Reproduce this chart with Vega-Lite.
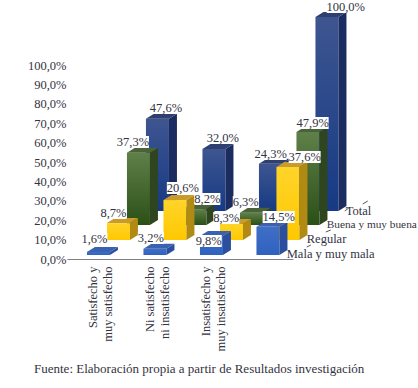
{
"$schema":"https://vega.github.io/schema/vega-lite/v6.json",
"width":226,"height":194,
"autosize":"none",
"padding":{"left":67,"top":65,"right":125,"bottom":129},
"background":"white",
"title":{"text":"Fuente: Elaboración propia a partir de Resultados investigación","orient":"bottom","anchor":"start","frame":"group","dx":-33,"offset":12,"font":"Liberation Serif","fontSize":13,"fontWeight":"normal","color":"#33333f"},
"config":{"view":{"stroke":null}},
"params":[
{"name":"etq","value":{"1.6":[-0.8,-16.9],"8.7":[18.2,-29.1],"37.3":[37.7,-44.6],"47.6":[70.7,-58.7],"3.2":[-0.9,-14.8],"20.6":[31.1,-31],"8.2":[55.6,-44.1],"32":[71.1,-58.9],"9.8":[0.5,1],"8.3":[18,-24.9],"6.3":[37.5,-44.8],"24.3":[62.5,-57.9],"14.5":[13.9,-13.9],"37.6":[39.9,-29],"47.9":[47.9,-43.1],"100":[80.9,-58]}},
{"name":"serie","value":{"Mala y muy mala":[22,-5],"Regular":[42,-20],"Buena y muy buena":[62,-34],"Total":[81,-48]}}
],
"data":{"values":[
{"Satisfaccion":"Satisfecho y\nmuy satisfecho","Calidad":"Mala y muy mala","Valor":1.6},
{"Satisfaccion":"Satisfecho y\nmuy satisfecho","Calidad":"Regular","Valor":8.7},
{"Satisfaccion":"Satisfecho y\nmuy satisfecho","Calidad":"Buena y muy buena","Valor":37.3},
{"Satisfaccion":"Satisfecho y\nmuy satisfecho","Calidad":"Total","Valor":47.6},
{"Satisfaccion":"Ni satisfecho\nni insatisfecho","Calidad":"Mala y muy mala","Valor":3.2},
{"Satisfaccion":"Ni satisfecho\nni insatisfecho","Calidad":"Regular","Valor":20.6},
{"Satisfaccion":"Ni satisfecho\nni insatisfecho","Calidad":"Buena y muy buena","Valor":8.2},
{"Satisfaccion":"Ni satisfecho\nni insatisfecho","Calidad":"Total","Valor":32.0},
{"Satisfaccion":"Insatisfecho y\nmuy insatisfecho","Calidad":"Mala y muy mala","Valor":9.8},
{"Satisfaccion":"Insatisfecho y\nmuy insatisfecho","Calidad":"Regular","Valor":8.3},
{"Satisfaccion":"Insatisfecho y\nmuy insatisfecho","Calidad":"Buena y muy buena","Valor":6.3},
{"Satisfaccion":"Insatisfecho y\nmuy insatisfecho","Calidad":"Total","Valor":24.3},
{"Satisfaccion":"Total","Calidad":"Mala y muy mala","Valor":14.5},
{"Satisfaccion":"Total","Calidad":"Regular","Valor":37.6},
{"Satisfaccion":"Total","Calidad":"Buena y muy buena","Valor":47.9},
{"Satisfaccion":"Total","Calidad":"Total","Valor":100}
]},
"encoding":{
"x":{"field":"Satisfaccion","type":"nominal","sort":null,
 "scale":{"domain":["Satisfecho y\nmuy satisfecho","Ni satisfecho\nni insatisfecho","Insatisfecho y\nmuy insatisfecho","Total"],"paddingInner":0,"paddingOuter":0},
 "axis":{"title":null,"ticks":false,"domainColor":"#808080","domainWidth":1,"labelAngle":-90,"labelAlign":"right","labelBaseline":"middle","labelPadding":7,"labelOffset":-2,"labelFont":"Liberation Serif","labelFontSize":12.5,"labelColor":"#33333f","labelLineHeight":15,"labelLimit":0,"labelExpr":"datum.label=='Total'?'':split(datum.label,'\\n')"}},
"y":{"field":"Valor","type":"quantitative","stack":null,
 "scale":{"domain":[0,100],"nice":false},
 "axis":{"title":null,"ticks":false,"domain":false,"grid":false,"values":[0,10,20,30,40,50,60,70,80,90,100],"labelPadding":1,"labelFont":"Liberation Serif","labelFontSize":12.5,"labelColor":"#33333f","labelExpr":"replace(format(datum.value,'.1f'),'.',',')+'%'"}}
},
"layer":[
{"transform":[{"filter":"datum.Calidad=='Total'"}],"mark":{"type":"bar","size":23,"xOffset":62.2,"yOffset":-48,"y2Offset":-48,"fill":{"gradient":"linear","x1":0,"y1":0,"x2":0,"y2":1,"stops":[{"offset":0,"color":"#3e5590"},{"offset":1,"color":"#163a84"}]}},"encoding":{"y2":{"datum":0}}},
{"transform":[{"filter":"datum.Calidad=='Total'"}],"mark":{"type":"point","filled":true,"opacity":1,"size":4,"xOffset":62.2,"yOffset":-48,"fill":"#1b2d60","shape":{"expr":"'M11.5,0L19.5,-5L19.5,'+(scale('y',datum.Valor)-height-5)+'L11.5,'+(scale('y',datum.Valor)-height)+'Z'"}},"encoding":{"y":{"datum":0,"type":"quantitative"}}},
{"transform":[{"filter":"datum.Calidad=='Total'"}],"mark":{"type":"point","filled":true,"opacity":1,"size":4,"xOffset":62.2,"yOffset":-48,"fill":"#2f4070","shape":"M-11.5,0L11.5,0L19.5,-5L-3.5,-5Z"}},

{"transform":[{"filter":"datum.Calidad=='Buena y muy buena'"}],"mark":{"type":"bar","size":23,"xOffset":43.2,"yOffset":-34,"y2Offset":-34,"fill":{"gradient":"linear","x1":0,"y1":0,"x2":0,"y2":1,"stops":[{"offset":0,"color":"#5f8049"},{"offset":1,"color":"#2b5016"}]}},"encoding":{"y2":{"datum":0}}},
{"transform":[{"filter":"datum.Calidad=='Buena y muy buena'"}],"mark":{"type":"point","filled":true,"opacity":1,"size":4,"xOffset":43.2,"yOffset":-34,"fill":"#2f4520","shape":{"expr":"'M11.5,0L19.5,-5L19.5,'+(scale('y',datum.Valor)-height-5)+'L11.5,'+(scale('y',datum.Valor)-height)+'Z'"}},"encoding":{"y":{"datum":0,"type":"quantitative"}}},
{"transform":[{"filter":"datum.Calidad=='Buena y muy buena'"}],"mark":{"type":"point","filled":true,"opacity":1,"size":4,"xOffset":43.2,"yOffset":-34,"fill":"#4a6238","shape":"M-11.5,0L11.5,0L19.5,-5L-3.5,-5Z"}},

{"transform":[{"filter":"datum.Calidad=='Regular'"}],"mark":{"type":"bar","size":23,"xOffset":23.2,"yOffset":-19,"y2Offset":-19,"fill":{"gradient":"linear","x1":0,"y1":0,"x2":0,"y2":1,"stops":[{"offset":0,"color":"#ffd42a"},{"offset":1,"color":"#ffc800"}]}},"encoding":{"y2":{"datum":0}}},
{"transform":[{"filter":"datum.Calidad=='Regular'"}],"mark":{"type":"point","filled":true,"opacity":1,"size":4,"xOffset":23.2,"yOffset":-19,"fill":"#b08a12","shape":{"expr":"'M11.5,0L19.5,-5L19.5,'+(scale('y',datum.Valor)-height-5)+'L11.5,'+(scale('y',datum.Valor)-height)+'Z'"}},"encoding":{"y":{"datum":0,"type":"quantitative"}}},
{"transform":[{"filter":"datum.Calidad=='Regular'"}],"mark":{"type":"point","filled":true,"opacity":1,"size":4,"xOffset":23.2,"yOffset":-19,"fill":"#c89b2a","shape":"M-11.5,0L11.5,0L19.5,-5L-3.5,-5Z"}},

{"transform":[{"filter":"datum.Calidad=='Mala y muy mala'"}],"mark":{"type":"bar","size":23,"xOffset":3.2,"yOffset":-4,"y2Offset":-4,"fill":{"gradient":"linear","x1":0,"y1":0,"x2":0,"y2":1,"stops":[{"offset":0,"color":"#3f6ec6"},{"offset":1,"color":"#2f62c0"}]}},"encoding":{"y2":{"datum":0}}},
{"transform":[{"filter":"datum.Calidad=='Mala y muy mala'"}],"mark":{"type":"point","filled":true,"opacity":1,"size":4,"xOffset":3.2,"yOffset":-4,"fill":"#2b4f9e","shape":{"expr":"'M11.5,0L19.5,-5L19.5,'+(scale('y',datum.Valor)-height-5)+'L11.5,'+(scale('y',datum.Valor)-height)+'Z'"}},"encoding":{"y":{"datum":0,"type":"quantitative"}}},
{"transform":[{"filter":"datum.Calidad=='Mala y muy mala'"}],"mark":{"type":"point","filled":true,"opacity":1,"size":4,"xOffset":3.2,"yOffset":-4,"fill":"#3a62b0","shape":"M-11.5,0L11.5,0L19.5,-5L-3.5,-5Z"}},

{"mark":{"type":"point","filled":true,"opacity":1,"size":4,"fill":"white","xOffset":{"expr":"etq[datum.Valor][0]"},"yOffset":{"expr":"etq[datum.Valor][1]"},"shape":{"expr":"datum.Valor<10?'M-13,-6H13V6H-13Z':datum.Valor<100?'M-16,-6H16V6H-16Z':'M-19,-6H19V6H-19Z'"}}},
{"mark":{"type":"text","font":"Liberation Serif","fontSize":12.5,"color":"#33333f","align":"center","baseline":"middle","dx":{"expr":"etq[datum.Valor][0]"},"dy":{"expr":"etq[datum.Valor][1]"}},"encoding":{"text":{"value":{"expr":"replace(format(datum.Valor,'.1f'),'.',',')+'%'"}}}},

{"transform":[{"filter":"datum.Satisfaccion=='Total'"}],"mark":{"type":"text","font":"Liberation Serif","fontSize":{"expr":"datum.Calidad=='Buena y muy buena'?11.3:12.5"},"color":"#33333f","align":"left","baseline":"middle","dx":{"expr":"serie[datum.Calidad][0]"},"dy":{"expr":"serie[datum.Calidad][1]"}},"encoding":{"y":{"datum":0,"type":"quantitative"},"text":{"field":"Calidad","type":"nominal"}}},
{"transform":[{"filter":"datum.Satisfaccion=='Total'&&datum.Calidad=='Total'"}],"mark":{"type":"point","filled":false,"opacity":1,"size":4,"stroke":"#555555","strokeWidth":1,"shape":"M42,-12L46,-14M61,-27L66,-29M80,-48L84,-51M98,-55L103,-58"},"encoding":{"y":{"datum":0,"type":"quantitative"}}}
]
}
